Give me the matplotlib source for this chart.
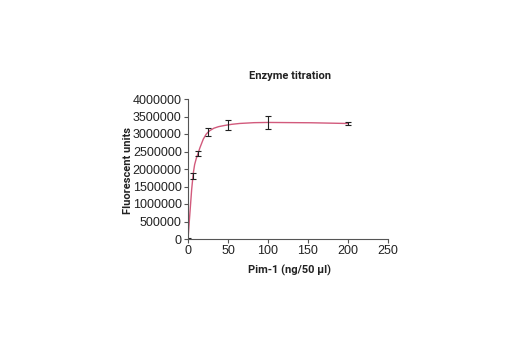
import numpy as np
import matplotlib
matplotlib.use("Agg")
import matplotlib.pyplot as plt
from matplotlib.path import Path
from matplotlib.patches import PathPatch

# Data
pim1_ng = [0, 6.25, 12.5, 25, 50, 100, 200]
fluor = [0, 1800000, 2440000, 3050000, 3260000, 3330000, 3300000]
err = [20000, 80000, 80000, 120000, 150000, 180000, 50000]
x_ticks = [0, 50, 100, 150, 200, 250]
y_ticks = [0, 500000, 1000000, 1500000, 2000000, 2500000, 3000000, 3500000, 4000000]

fig = plt.figure(figsize=(5.2, 3.5), dpi=100)
ax = fig.add_axes([188/520, 1-239/350, 200/520, 140/350])
ax.set_xlim(0, 250)
ax.set_ylim(0, 4000000)

# smooth line (Catmull-Rom style Bezier) through data points, in normalized space
xs = np.array(pim1_ng, float) / 250.0
ys = np.array(fluor, float) / 4000000.0 * (140/200)
n = len(xs)
verts = [(xs[0], ys[0])]
codes = [Path.MOVETO]
t = 1/6
for i in range(n-1):
    p0 = np.array([xs[max(i-1, 0)], ys[max(i-1, 0)]])
    p1 = np.array([xs[i], ys[i]])
    p2 = np.array([xs[i+1], ys[i+1]])
    p3 = np.array([xs[min(i+2, n-1)], ys[min(i+2, n-1)]])
    c1 = p1 + (p2 - p0) * t
    c2 = p2 - (p3 - p1) * t
    verts += [tuple(c1), tuple(c2), tuple(p2)]
    codes += [Path.CURVE4]*3
verts = [(vx*250.0, vy/(140/200)*4000000.0) for vx, vy in verts]
path = Path(verts, codes)
ax.add_patch(PathPatch(path, facecolor='none', edgecolor='#d25a7c', lw=1.0))

ax.errorbar(pim1_ng, fluor, yerr=err, fmt='none', ecolor='#222222', elinewidth=0.8, capsize=2.5, capthick=0.8)

ax.set_xticks(x_ticks)
ax.set_yticks(y_ticks)
ax.set_yticklabels([str(v) for v in y_ticks])
for s in ['top', 'right']:
    ax.spines[s].set_visible(False)
for s in ['left', 'bottom']:
    ax.spines[s].set_color('#555555')
    ax.spines[s].set_linewidth(0.8)
ax.tick_params(direction='out', length=3, width=0.8, color='#555555', labelsize=9, pad=1.5)
for lab in ax.get_xticklabels() + ax.get_yticklabels():
    lab.set_family('Liberation Sans')
    lab.set_color('#222222')

bold = dict(family='Roboto', fontweight='bold', fontsize=8, color='#222222')
fig.text(290/520, 1-76/350, 'Enzyme titration', ha='center', va='center', **bold)
fig.text(290/520, 1-270/350, 'Pim-1 (ng/50 µl)', ha='center', va='center', **bold)
fig.text(128/520, 1-170/350, 'Fluorescent units', ha='center', va='center', rotation=90, **bold)

fig.savefig('out.png', dpi=100)
